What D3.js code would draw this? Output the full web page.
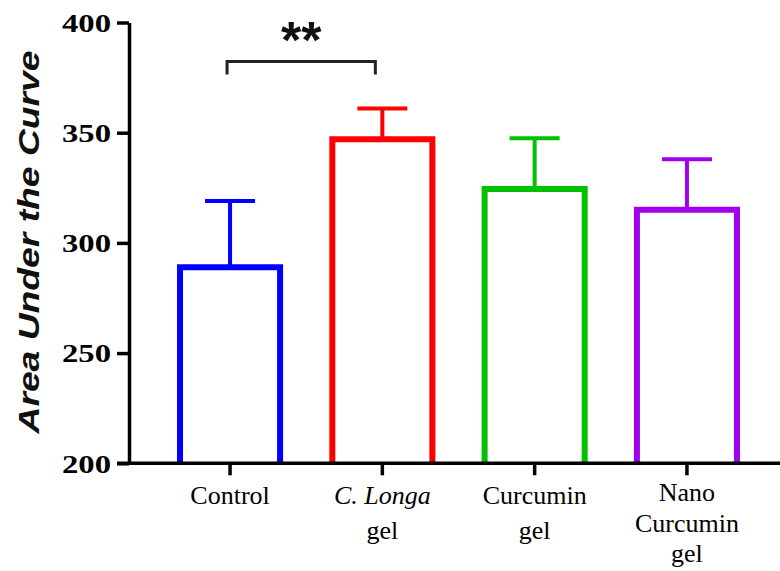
<!DOCTYPE html>
<html>
<head>
<meta charset="utf-8">
<script src="https://cdn.jsdelivr.net/npm/d3@7"></script>
<style>
  body { margin: 0; background: #fff; }
  svg { display: block; }
</style>
</head>
<body>
<div id="chart"></div>
<script>
// values
var groups = ["Control", "C. Longa gel", "Curcumin gel", "Nano Curcumin gel"];
var means = [289, 347, 324.5, 315];
var errors = [30, 14, 23, 23];
var colors = ["#0000ff", "#ff0000", "#00c000", "#a000ee"];
var labelLines = [["Control"], ["C. Longa", "gel"], ["Curcumin", "gel"], ["Nano", "Curcumin", "gel"]];
var yTicks = [200, 250, 300, 350, 400];

var width = 780, height = 571;

var svg = d3.select("#chart")
            .append("svg")
            .attr("width", width)
            .attr("height", height);

var x = d3.scaleBand()
          .domain(groups)
          .range([129, 788])
          .paddingInner(0.343)
          .paddingOuter(0.335);

var y = d3.scaleLinear()
          .domain([200, 400])
          .range([463.3, 22.5]);

var bw = x.bandwidth();

// bars (open at the bottom, the axis closes them)
svg.selectAll("path.bar")
   .data(groups)
   .enter().append("path")
   .attr("class", "bar")
   .attr("d", function (d, i) {
       var x0 = x(d), x1 = x(d) + bw;
       return "M" + x0 + "," + y(200) + "V" + y(means[i]) + "H" + x1 + "V" + y(200);
   })
   .attr("fill", "none")
   .attr("stroke", function (d, i) { return colors[i]; })
   .attr("stroke-width", 6);

// error bars (upper only)
var eg = svg.selectAll("g.err")
            .data(groups)
            .enter().append("g")
            .attr("class", "err")
            .attr("stroke", function (d, i) { return colors[i]; })
            .attr("stroke-width", 4);
eg.append("line")
  .attr("x1", function (d) { return x(d) + bw / 2; })
  .attr("x2", function (d) { return x(d) + bw / 2; })
  .attr("y1", function (d, i) { return y(means[i]); })
  .attr("y2", function (d, i) { return y(means[i] + errors[i]); });
eg.append("line")
  .attr("x1", function (d) { return x(d) + bw / 2 - 25; })
  .attr("x2", function (d) { return x(d) + bw / 2 + 25; })
  .attr("y1", function (d, i) { return y(means[i] + errors[i]); })
  .attr("y2", function (d, i) { return y(means[i] + errors[i]); });

// Y axis
var yAxis = svg.append("g")
               .attr("transform", "translate(129,0)")
               .call(d3.axisLeft(y).tickValues(yTicks).tickSize(12).tickSizeOuter(0).tickPadding(6));
yAxis.select(".domain").attr("stroke", "#000").attr("stroke-width", 3.5);
yAxis.selectAll(".tick line").attr("stroke", "#000").attr("stroke-width", 3.5);
yAxis.selectAll(".tick text")
     .attr("fill", "#000")
     .style("font-family", "'Liberation Serif', 'Times New Roman', serif")
     .style("font-weight", "bold")
     .style("font-size", "26px")
     .attr("textLength", 49)
     .attr("lengthAdjust", "spacingAndGlyphs")
     .attr("dy", "0.34em");

// X axis
var xAxis = svg.append("g")
               .attr("transform", "translate(0," + y(200) + ")")
               .call(d3.axisBottom(x).tickSize(12).tickSizeOuter(0).tickFormat(""));
xAxis.select(".domain").attr("stroke", "#000").attr("stroke-width", 3.5)
     .attr("d", "M117,0H" + width);
xAxis.selectAll(".tick line").attr("stroke", "#000").attr("stroke-width", 3.5);

// multi-line category labels
var lbl = svg.selectAll("text.xlab")
             .data(groups)
             .enter().append("text")
             .attr("class", "xlab")
             .attr("text-anchor", "middle")
             .style("font-family", "'Liberation Serif', 'Times New Roman', serif")
             .style("font-size", "26px")
             .attr("fill", "#000");
lbl.each(function (d, i) {
    var t = d3.select(this);
    var n = labelLines[i].length;
    var first = n > 2 ? 501 : 504, step = n > 2 ? 30.5 : 35;
    labelLines[i].forEach(function (line, j) {
        t.append("tspan")
         .attr("x", x(d) + bw / 2)
         .attr("y", first + j * step)
         .style("font-style", line === "C. Longa" ? "italic" : "normal")
         .text(line);
    });
});

// y title
svg.append("text")
   .attr("transform", "translate(39,242) rotate(-90)")
   .attr("text-anchor", "middle")
   .style("font-family", "'Liberation Sans', Arial, sans-serif")
   .style("font-weight", "bold")
   .style("font-style", "italic")
   .style("font-size", "29px")
   .attr("textLength", 383)
   .attr("lengthAdjust", "spacingAndGlyphs")
   .attr("fill", "#111")
   .text("Area Under the Curve");

// significance bracket
var bl = x(groups[0]) + bw / 2 - 3,
    br = x(groups[1]) + bw / 2 - 7,
    by = 61.5;
svg.append("path")
   .attr("d", "M" + bl + "," + (by + 13) + "V" + by + "H" + br + "V" + (by + 13))
   .attr("fill", "none")
   .attr("stroke", "#222")
   .attr("stroke-width", 3);
svg.append("text")
   .attr("x", (bl + br) / 2)
   .attr("y", 58)
   .attr("text-anchor", "middle")
   .style("font-family", "'Liberation Sans', Arial, sans-serif")
   .style("font-weight", "bold")
   .style("font-size", "52px")
   .attr("fill", "#111")
   .text("**");
</script>
</body>
</html>
